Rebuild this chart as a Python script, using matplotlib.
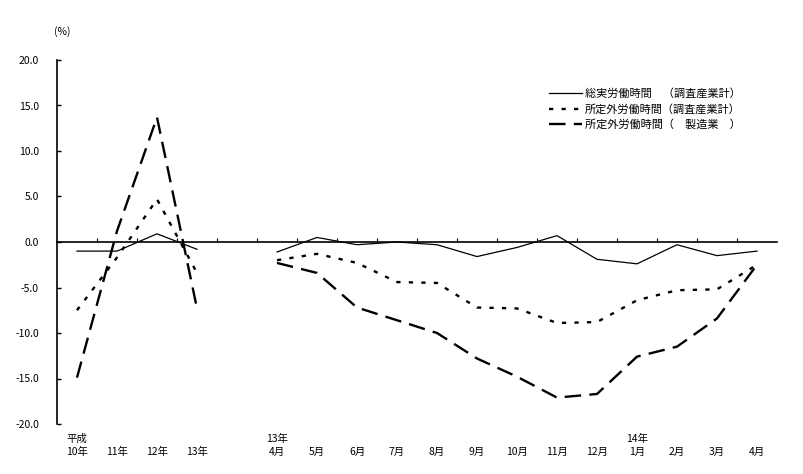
import numpy as np
import matplotlib
matplotlib.use("Agg")
import matplotlib.pyplot as plt
from matplotlib.transforms import blended_transform_factory

plt.rcParams['font.family'] = ['Noto Sans CJK JP', 'DejaVu Sans']

# categories (None = gap between annual and monthly series)
top_labels = ["平成", "", "", "", None, "13年", "", "", "", "", "", "", "", "", "14年", "", "", ""]
bottom_labels = ["10年", "11年", "12年", "13年", None, "4月", "5月", "6月", "7月", "8月", "9月",
                 "10月", "11月", "12月", "1月", "2月", "3月", "4月"]

nan = np.nan
total_hours = [-1.0, -1.0, 0.9, -0.8, nan,
               -1.1, 0.5, -0.3, 0.0, -0.3, -1.6, -0.6, 0.7, -1.9, -2.4, -0.3, -1.5, -1.0]
overtime_all = [-7.5, -1.7, 4.7, -3.4, nan,
                -2.0, -1.3, -2.3, -4.4, -4.5, -7.2, -7.3, -8.9, -8.8, -6.4, -5.3, -5.2, -2.5]
overtime_mfg = [-14.9, 1.2, 13.7, -7.3, nan,
                -2.3, -3.4, -7.2, -8.6, -10.0, -12.8, -14.8, -17.1, -16.7, -12.6, -11.5, -8.4, -2.5]

series_names = ["総実労働時間　（調査産業計）", "所定外労働時間（調査産業計）", "所定外労働時間（　製造業　）"]
yticks = [20, 15, 10, 5, 0, -5, -10, -15, -20]

fig = plt.figure(figsize=(8.04, 4.74), dpi=100)
ax = fig.add_axes([57/804, 1-424/474, 720/804, 364/474])

x = np.arange(len(bottom_labels))
ax.plot(x, total_hours, color='black', lw=0.9, label=series_names[0])
ax.plot(x, overtime_all, color='black', lw=1.7, linestyle=(0, (1.8, 3.5)), label=series_names[1])
ax.plot(x, overtime_mfg, color='black', lw=1.7, linestyle=(0, (7, 3.5)), label=series_names[2])

ax.set_xlim(-0.5, len(bottom_labels) - 0.5)
ax.set_ylim(-20, 20)
ax.set_yticks(yticks)
ax.set_yticklabels([f"{v:.1f}" for v in yticks], fontsize=7.5)
ax.tick_params(axis='y', direction='in', length=3, width=1, pad=13)

for s in ['top', 'right']:
    ax.spines[s].set_visible(False)
ax.spines['left'].set_linewidth(1.2)
ax.spines['bottom'].set_position(('data', 0))
ax.spines['bottom'].set_linewidth(1.2)
ax.set_xticks(np.arange(0.5, len(bottom_labels) - 0.5, 1.0))
ax.set_xticklabels([])
ax.tick_params(axis='x', direction='in', length=3, width=0.8)

trans = blended_transform_factory(ax.transData, fig.transFigure)
for i, (t, b) in enumerate(zip(top_labels, bottom_labels)):
    if b is None:
        continue
    if t:
        ax.text(i, 1-439/474, t, transform=trans, ha='center', va='center', fontsize=7.5)
    ax.text(i, 1-452/474, b, transform=trans, ha='center', va='center', fontsize=7.5)

fig.text(62/804, 1-32/474, "(%)", ha='center', va='center', fontsize=7.5)

leg = ax.legend(loc='upper left', bbox_to_anchor=(549/804, 1-88/474), bbox_transform=fig.transFigure,
                frameon=False, fontsize=8, handlelength=3.0, handletextpad=0.2, labelspacing=0.45,
                borderpad=0, borderaxespad=0)

fig.savefig("out.png", dpi=100)
